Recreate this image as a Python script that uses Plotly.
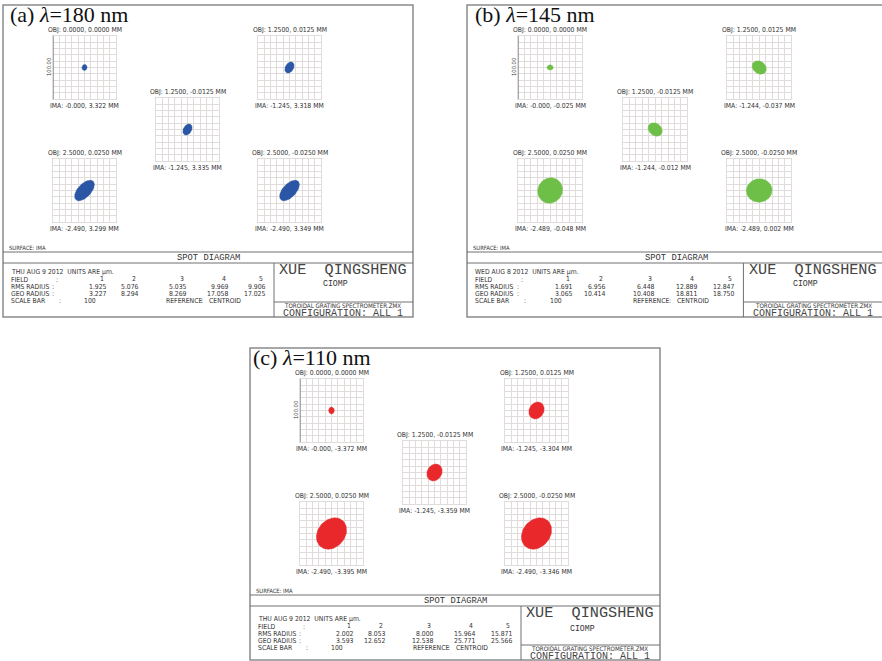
import numpy as np
import plotly.graph_objects as go

W, H = 882, 661

# ---------------- data ----------------
panel_tags = ["(a)", "(b)", "(c)"]
wavelengths_nm = [180, 145, 110]
run_dates = ["THU AUG 9 2012", "WED AUG 8 2012", "THU AUG 9 2012"]
spot_colors = ["#2b55a5", "#6dbf47", "#e8282b"]

field_numbers = [1, 2, 3, 4, 5]
obj_coords = ["0.0000, 0.0000", "1.2500, 0.0125", "1.2500, -0.0125",
              "2.5000, 0.0250", "2.5000, -0.0250"]
ima_coords_a = ["-0.000, 3.322", "-1.245, 3.318", "-1.245, 3.335",
                "-2.490, 3.299", "-2.490, 3.349"]
ima_coords_b = ["-0.000, -0.025", "-1.244, -0.037", "-1.244, -0.012",
                "-2.489, -0.048", "-2.489, 0.002"]
ima_coords_c = ["-0.000, -3.372", "-1.245, -3.304", "-1.245, -3.359",
                "-2.490, -3.395", "-2.490, -3.346"]

rms_radius_a = [1.925, 5.076, 5.035, 9.969, 9.906]
geo_radius_a = [3.227, 8.294, 8.269, 17.058, 17.025]
rms_radius_b = [1.691, 6.956, 6.448, 12.889, 12.847]
geo_radius_b = [3.065, 10.414, 10.408, 18.811, 18.750]
rms_radius_c = [2.002, 8.053, 8.000, 15.964, 15.871]
geo_radius_c = [3.593, 12.652, 12.538, 25.771, 25.566]

scale_bar_um = 100

# spot outlines as seen in the picture (micrometres): semi-axes and tilt (deg)
spot_semi_major_a = [4.8, 9.5, 9.5, 20.0, 20.0]
spot_semi_minor_a = [4.0, 6.5, 6.5, 10.5, 10.5]
spot_tilt_a = [80, 60, 60, 47, 47]
spot_semi_major_b = [4.8, 12.0, 12.0, 20.5, 20.0]
spot_semi_minor_b = [4.2, 9.5, 9.5, 19.0, 18.5]
spot_tilt_b = [0, -40, -40, 60, 10]
spot_semi_major_c = [5.5, 14.0, 14.0, 27.0, 27.0]
spot_semi_minor_c = [4.5, 11.5, 11.5, 21.5, 21.5]
spot_tilt_c = [90, 60, 60, 50, 50]

ima_coords = [ima_coords_a, ima_coords_b, ima_coords_c]
rms_radius = [rms_radius_a, rms_radius_b, rms_radius_c]
geo_radius = [geo_radius_a, geo_radius_b, geo_radius_c]
spot_major = [spot_semi_major_a, spot_semi_major_b, spot_semi_major_c]
spot_minor = [spot_semi_minor_a, spot_semi_minor_b, spot_semi_minor_c]
spot_tilt = [spot_tilt_a, spot_tilt_b, spot_tilt_c]

# ---------------- layout (pixels) ----------------
panel_origin = [(3, 5, 1.0), (467, 5, 1.02), (250, 348, 1.0)]
title_dx = [6, 7, 2]
row_dy = [0, 0, 4]
PANEL_W, PANEL_H = 410, 312
GRID = 63
GRID_POS = [(50, 31), (255, 31), (153, 93), (50, 154), (255, 154)]
ROW_Y = [266.5, 274.5, 281.5, 288.5, 295.5]

NARROW = "Liberation Sans Narrow, DejaVu Sans Condensed, Liberation Sans, sans-serif"
MONO = "Liberation Mono, DejaVu Sans Mono, monospace"
SERIF = "Liberation Serif, DejaVu Serif, serif"
TXT = "#333333"
FRAME = "#8a8a8a"
LINE = "#707070"
GRIDC = "#e0dcdc"
FS = 6.8


def px(x):
    return x / W


def py(y):
    return 1 - y / H


annotations = []
shapes = []
traces = []
layout_axes = {}


def ann(x, y, text, size, family=NARROW, xanchor="center", color=TXT, angle=0):
    annotations.append(dict(x=px(x), y=py(y), xref="paper", yref="paper", text=text,
                            showarrow=False, xanchor=xanchor, yanchor="middle",
                            textangle=angle, borderpad=0,
                            font=dict(family=family, size=size, color=color)))


def hline(x0, x1, y, color=LINE, width=1):
    shapes.append(dict(type="line", xref="paper", yref="paper", x0=px(x0), x1=px(x1),
                       y0=py(y), y1=py(y), line=dict(color=color, width=width)))


def vline(x, y0, y1, color=LINE, width=1):
    shapes.append(dict(type="line", xref="paper", yref="paper", x0=px(x), x1=px(x),
                       y0=py(y0), y1=py(y1), line=dict(color=color, width=width)))


NB = "\u00a0"
ax_i = 0
for p in range(3):
    X0, Y0, sx = panel_origin[p]
    dy = row_dy[p]

    def X(r):
        return X0 + r * sx

    def Y(r):
        return Y0 + r

    # outer frame
    shapes.append(dict(type="rect", xref="paper", yref="paper",
                       x0=px(X(0)), x1=px(X(PANEL_W)), y0=py(Y(0)), y1=py(Y(PANEL_H)),
                       line=dict(color=FRAME, width=1.5)))
    # title
    ann(X(title_dx[p]), Y(9.5), f"{panel_tags[p]} <i>λ</i>={wavelengths_nm[p]} nm", 22,
        family=SERIF, xanchor="left", color="#111111")

    for f in range(5):
        ax_i += 1
        gx, gy = GRID_POS[f]
        left, top = X(gx), Y(gy)
        right, bottom = left + GRID * sx, top + GRID
        sfx = "" if ax_i == 1 else str(ax_i)
        common = dict(range=[-scale_bar_um / 2, scale_bar_um / 2], showgrid=True,
                      gridcolor=GRIDC, gridwidth=1, dtick=10, tick0=0,
                      showticklabels=False, zeroline=False, showline=True, mirror=True,
                      linecolor=GRIDC, linewidth=1, ticks="", fixedrange=True)
        layout_axes["xaxis" + sfx] = dict(domain=[px(left), px(right)],
                                          anchor="y" + sfx, **common)
        layout_axes["yaxis" + sfx] = dict(domain=[py(bottom), py(top)],
                                          anchor="x" + sfx, **common)
        a = spot_major[p][f]
        b = spot_minor[p][f]
        th = np.radians(spot_tilt[p][f])
        t = np.linspace(0, 2 * np.pi, 91)
        ex = a * np.cos(t) * np.cos(th) - b * np.sin(t) * np.sin(th)
        ey = a * np.cos(t) * np.sin(th) + b * np.sin(t) * np.cos(th)
        traces.append(go.Scatter(x=ex, y=ey, xaxis="x" + sfx, yaxis="y" + sfx,
                                 mode="lines", fill="toself",
                                 fillcolor=spot_colors[p],
                                 line=dict(color=spot_colors[p], width=0.5),
                                 hoverinfo="skip", showlegend=False))
        cx = (left + right) / 2
        ann(cx, top - 6.3, f"OBJ: {obj_coords[f]} MM", 6.8)
        ann(cx, bottom + 6.5, f"IMA: {ima_coords[p][f]} MM", 6.8)
        if f == 0:
            # scale bar on the first field plot
            h = scale_bar_um / 2
            for (x0_, y0_, x1_, y1_) in [(-h, -h, -h, h), (-h - 3, h, -h, h),
                                         (-h - 3, -h, -h, -h)]:
                shapes.append(dict(type="line", xref="x" + sfx, yref="y" + sfx,
                                   x0=x0_, y0=y0_, x1=x1_, y1=y1_,
                                   line=dict(color="#8c8c8c", width=1.5)))
            ann(left - 4.5, (top + bottom) / 2, f"{scale_bar_um:.2f}", 5.8, angle=-90)

    # footer
    ann(X(5), Y(242.5), "SURFACE: IMA", 5.8, xanchor="left")
    hline(X(0), X(PANEL_W), Y(247))
    ann(X(205), Y(252.5), "SPOT" + NB + "DIAGRAM", 8.8, family=MONO)
    hline(X(0), X(PANEL_W), Y(258))
    vline(X(271), Y(258), Y(PANEL_H))
    hline(X(271), X(PANEL_W), Y(297))

    ann(X(7), Y(ROW_Y[0] + dy), run_dates[p] + NB * 2 + "UNITS ARE µm.", FS, xanchor="left")
    labels = ["FIELD", "RMS RADIUS", "GEO RADIUS", "SCALE BAR"]
    colon_x = [54, 50, 50, 57]
    for k in range(4):
        ann(X(7), Y(ROW_Y[k + 1] + dy), labels[k], FS, xanchor="left")
        ann(X(colon_x[k]), Y(ROW_Y[k + 1] + dy), ":", FS)
    col_r = [105, 137, 185, 227, 264]
    for f in range(5):
        ann(X(col_r[f] - 3), Y(ROW_Y[1] - 0.5 + dy), str(field_numbers[f]), FS,
            xanchor="right")
        ann(X(col_r[f]), Y(ROW_Y[2] + dy), f"{rms_radius[p][f]:.3f}", FS, xanchor="right")
        ann(X(col_r[f]), Y(ROW_Y[3] + dy), f"{geo_radius[p][f]:.3f}", FS, xanchor="right")
    ann(X(80), Y(ROW_Y[4] + dy), str(scale_bar_um), FS, xanchor="left")
    ann(X(162), Y(ROW_Y[4] + dy), "REFERENCE", FS, xanchor="left")
    ann(X(199), Y(ROW_Y[4] + dy), ":", FS)
    ann(X(205), Y(ROW_Y[4] + dy), "CENTROID", FS, xanchor="left")

    ann(X(339.5), Y(264.5), "XUE" + NB * 2 + "QINGSHENG", 15.2, family=MONO, color="#444444")
    ann(X(332), Y(278 + dy / 2), "CIOMP", 8.2, family=MONO)
    ann(X(339.5), Y(300.9), "TOROIDAL GRATING SPECTROMETER.ZMX", 6.2)
    ann(X(339.5), Y(308.4), "CONFIGURATION:" + NB + "ALL" + NB + "1", 10.0, family=MONO,
        color="#444444")

fig = go.Figure(traces)
fig.update_layout(width=W, height=H, margin=dict(l=0, r=0, t=0, b=0),
                  paper_bgcolor="white", plot_bgcolor="white", showlegend=False,
                  annotations=annotations, shapes=shapes, **layout_axes)
fig.write_html("out.html", config={"displayModeBar": False},
               post_script="document.body.style.margin='0px';")
